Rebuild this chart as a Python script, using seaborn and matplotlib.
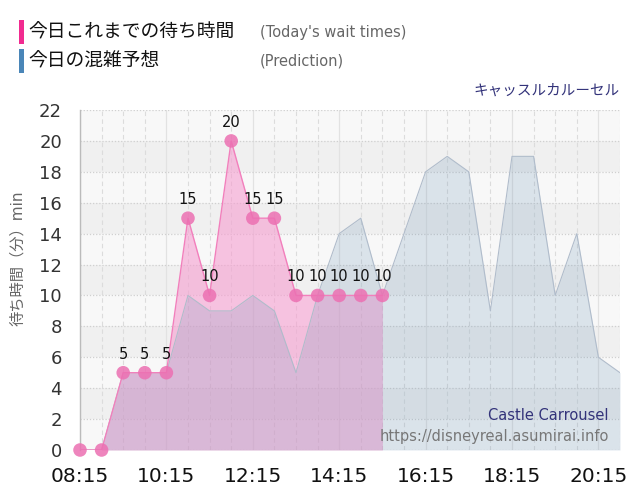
import matplotlib.pyplot as plt
import numpy as np
import pandas as pd
import seaborn as sns

# --- data ---
actual_times = ["08:15", "08:45", "09:15", "09:45", "10:15", "10:45", "11:15", "11:45",
                "12:15", "12:45", "13:15", "13:45", "14:15", "14:45", "15:15"]
actual_waits = [0, 0, 5, 5, 5, 15, 10, 20, 15, 15, 10, 10, 10, 10, 10]

pred_times = ["08:15", "08:45", "09:15", "09:45", "10:15", "10:45", "11:15", "11:45",
              "12:15", "12:45", "13:15", "13:45", "14:15", "14:45", "15:15", "15:45",
              "16:15", "16:45", "17:15", "17:45", "18:15", "18:45", "19:15", "19:45",
              "20:15", "20:45"]
pred_waits = [0, 0, 5, 5, 5, 10, 9, 9, 10, 9, 5, 10, 14, 15, 10, 14,
              18, 19, 18, 9, 19, 19, 10, 14, 6, 5]

hour_ticks = ["08:15", "10:15", "12:15", "14:15", "16:15", "18:15", "20:15"]
y_ticks = list(range(0, 23, 2))


def to_hours(t):
    h, m = t.split(":")
    return int(h) + int(m) / 60


actual = pd.DataFrame({"t": [to_hours(t) for t in actual_times], "wait": actual_waits})
pred = pd.DataFrame({"t": [to_hours(t) for t in pred_times], "wait": pred_waits})

sns.set_style("white")
plt.rcParams["font.family"] = ["DejaVu Sans", "Noto Sans CJK JP"]

fig = plt.figure(figsize=(6.4, 5), dpi=100)
ax = fig.add_axes([80 / 640, 0.1, 540 / 640, 0.68])

# alternating background bands
for k in range(11):
    shade = "#f0f0f0" if k % 2 == 1 else "#f8f8f8"
    ax.axhspan(2 * k, 2 * k + 2, color=shade, zorder=0, lw=0)

# grid lines
half_hours = np.arange(8.25, 20.76, 0.5)
ax.set_xticks(half_hours, minor=True)
ax.grid(True, which="minor", axis="x", color="#dcdcdc", ls=(0, (4, 3)), lw=0.8, zorder=1)
ax.grid(True, which="major", axis="x", color="#e2e2e2", ls="-", lw=0.9, zorder=1)
ax.grid(True, which="major", axis="y", color="#d0d0d0", ls=(0, (1, 1.5)), lw=0.9, zorder=1)

# areas
ax.fill_between(actual["t"], actual["wait"], color=(246 / 255, 158 / 255, 208 / 255),
                alpha=0.6, lw=0, zorder=2)
ax.fill_between(pred["t"], pred["wait"], color=(110 / 255, 150 / 255, 183 / 255),
                alpha=0.21, lw=0, zorder=3)

sns.lineplot(data=pred, x="t", y="wait", color="#b0bccb", lw=0.8, ax=ax, zorder=4)
sns.lineplot(data=actual, x="t", y="wait", color="#f27fbc", lw=1.0, ax=ax, zorder=5)
sns.scatterplot(data=actual, x="t", y="wait", color="#ec70b2", alpha=0.85, s=95,
                edgecolor="none", ax=ax, zorder=6, clip_on=False)

for t, w in zip(actual["t"], actual["wait"]):
    if w > 0:
        ax.annotate(str(w), (t, w), xytext=(0, 8), textcoords="offset points",
                    ha="center", va="bottom", fontsize=10.5, color="#111111", zorder=7)

ax.set_xlim(8.25, 20.75)
ax.set_ylim(0, 22)
ax.set_xticks([to_hours(t) for t in hour_ticks])
ax.set_xticklabels(hour_ticks, fontsize=14.5, color="#111111")
ax.set_yticks(y_ticks)
ax.set_yticklabels([str(v) for v in y_ticks], fontsize=13, color="#333333")
ax.tick_params(axis="x", which="major", length=11, color="#dddddd", pad=1)
ax.tick_params(axis="x", which="minor", length=0)
ax.tick_params(axis="y", length=11, color="#dddddd", pad=2)
ax.set_xlabel("")
ax.set_ylabel("")

for side in ["top", "right", "bottom"]:
    ax.spines[side].set_visible(False)
ax.spines["left"].set_color("#bbbbbb")
ax.spines["left"].set_linewidth(1)

# y label
fig.text(18 / 640, 1 - 258 / 500, "待ち時間（分）min", rotation=90, fontsize=11,
         color="#666666", ha="center", va="center")

# header / legend
fig.add_artist(plt.Rectangle((19 / 640, 1 - 44 / 500), 5 / 640, 24 / 500,
                             transform=fig.transFigure, color="#f12b90", lw=0))
fig.add_artist(plt.Rectangle((19 / 640, 1 - 73 / 500), 5 / 640, 24 / 500,
                             transform=fig.transFigure, color="#4a86b8", lw=0))
fig.text(28 / 640, 1 - 32 / 500, "今日これまでの待ち時間", fontsize=13.5,
         color="#111111", va="center")
fig.text(260 / 640, 1 - 32 / 500, "(Today's wait times)", fontsize=10.5,
         color="#666666", va="center")
fig.text(28 / 640, 1 - 61 / 500, "今日の混雑予想", fontsize=13.5,
         color="#111111", va="center")
fig.text(260 / 640, 1 - 61 / 500, "(Prediction)", fontsize=10.5,
         color="#666666", va="center")
fig.text(620 / 640, 1 - 90 / 500, "キャッスルカルーセル", fontsize=10.5,
         color="#33337a", ha="right", va="center")

# watermark inside the plot
fig.text(609 / 640, 1 - 415 / 500, "Castle Carrousel", fontsize=10.5,
         color="#33337a", ha="right", va="center")
fig.text(609 / 640, 1 - 436 / 500, "https://disneyreal.asumirai.info", fontsize=10.5,
         color="#777777", ha="right", va="center")

fig.savefig("out.png", dpi=100)
